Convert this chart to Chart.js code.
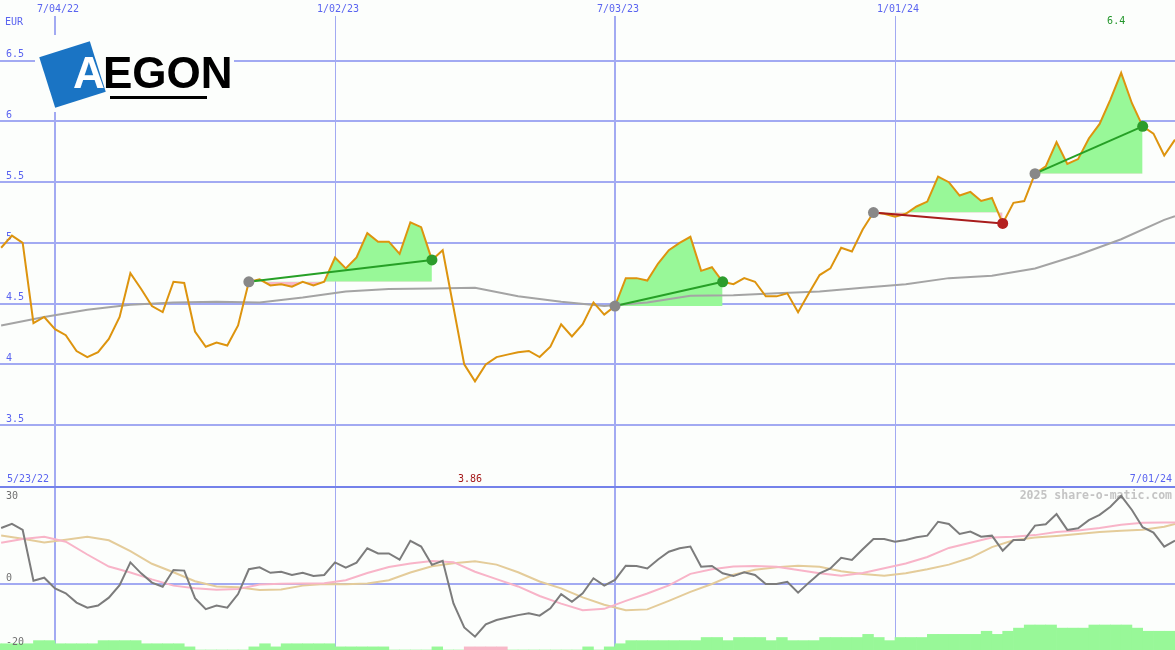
<!DOCTYPE html>
<html>
<head>
<meta charset="utf-8">
<title>AEGON</title>
<script src="https://cdn.jsdelivr.net/npm/chart.js@4.4.1/dist/chart.umd.min.js"></script>
<style>
  body { margin: 0; background: #fcfefc; }
  #wrap { position: relative; width: 1175px; height: 650px; overflow: hidden; }
  canvas { position: absolute; left: 0; }
</style>
</head>
<body>
<div id="wrap">
  <canvas id="top" width="1175" height="488" style="top:0"></canvas>
  <canvas id="bottom" width="1175" height="162" style="top:488px"></canvas>
</div>
<script>
// weekly closes, first value is week -5 (week 0 = 7/04/22)
const firstWeek = -5;
const price = [
  4.96, 5.06, 5.00, 4.34, 4.39, 4.29, 4.24, 4.11, 4.06, 4.10,
  4.21, 4.39, 4.75, 4.62, 4.48, 4.43, 4.68, 4.67, 4.27, 4.145,
  4.18, 4.155, 4.32, 4.68, 4.70, 4.65, 4.66, 4.64, 4.68, 4.65,
  4.68, 4.88, 4.79, 4.88, 5.08, 5.01, 5.01, 4.91, 5.17, 5.13,
  4.86, 4.94, 4.47, 4.00, 3.86, 4.00, 4.06, 4.08, 4.10, 4.11,
  4.06, 4.145, 4.33, 4.23, 4.33, 4.51, 4.41, 4.48, 4.71, 4.71,
  4.69, 4.83, 4.94, 5.00, 5.05, 4.77, 4.80, 4.68, 4.66, 4.71,
  4.68, 4.56, 4.56, 4.585, 4.43, 4.585, 4.735, 4.79, 4.96, 4.93,
  5.11, 5.25, 5.24, 5.215, 5.24, 5.30, 5.34, 5.545, 5.50, 5.39,
  5.42, 5.345, 5.37, 5.16, 5.33, 5.345, 5.57, 5.63, 5.83, 5.65,
  5.69, 5.86, 5.98, 6.18, 6.40, 6.15, 5.96, 5.90, 5.72, 5.85
];
// same weeks as price
const oscillator = [
  20.5, 22.0, 19.8, 1.2, 2.3, -1.6, -3.4, -6.8, -8.7, -7.9,
  -5.0, -0.4, 7.9, 3.9, 0.5, -1.0, 5.1, 4.9, -5.2, -9.2,
  -7.9, -8.7, -3.7, 5.4, 6.1, 4.1, 4.5, 3.3, 4.1, 2.9,
  3.3, 7.9, 6.0, 7.8, 13.1, 11.2, 11.2, 8.9, 15.8, 13.7,
  7.0, 8.5, -7.1, -15.9, -19.3, -14.8, -13.2, -12.3, -11.4, -10.7,
  -11.6, -8.9, -3.7, -6.5, -3.4, 2.1, -0.6, 1.5, 6.7, 6.6,
  5.7, 9.0, 11.8, 13.1, 13.7, 6.3, 6.6, 3.9, 2.9, 4.3,
  3.3, 0.0, 0.0, 0.8, -3.2, 0.5, 3.9, 5.7, 9.6, 8.8,
  12.7, 16.5, 16.5, 15.5, 16.1, 17.1, 17.7, 22.8, 22.0, 18.3,
  19.2, 17.3, 17.7, 12.2, 16.1, 16.1, 21.4, 21.9, 25.6, 19.8,
  20.4, 23.4, 25.3, 28.3, 32.3, 27.1, 20.8, 18.8, 13.7, 15.9
];

// long moving average (grey), every 4 weeks
const maWeeks = [-5, -1, 3, 7, 11, 15, 19, 23, 27, 31, 35, 39, 43, 47, 51, 55, 59, 63, 67, 71, 75, 79, 83, 87, 91, 95, 99, 103, 104];
const maValues = [4.32, 4.39, 4.45, 4.49, 4.51, 4.515, 4.51, 4.55, 4.60, 4.62, 4.625, 4.63, 4.56, 4.515, 4.48, 4.51, 4.565, 4.57, 4.585, 4.60, 4.63, 4.66, 4.71, 4.73, 4.79, 4.90, 5.03, 5.19, 5.22];

// oscillator averages, every 2 weeks from -5 to 103, then 104
const smoothWeeks = [];
for (let w = -5; w <= 103; w += 2) smoothWeeks.push(w);
smoothWeeks.push(104);
const pinkAvg = [
  15.1, 16.5, 17.3, 15.5, 10.8, 6.4, 4.2, 1.7, -0.6, -1.6,
  -2.1, -1.8, -0.2, 0.1, 0.2, 0.3, 1.4, 4.0, 6.2, 7.5,
  8.4, 8.0, 4.5, 1.8, -0.9, -4.4, -7.2, -9.6, -9.1, -6.2,
  -3.5, -0.5, 3.7, 5.4, 6.4, 6.6, 6.3, 5.1, 3.9, 3.0,
  4.0, 5.8, 7.5, 9.9, 13.2, 15.1, 17.0, 17.3, 17.9, 19.0,
  19.6, 20.5, 21.7, 22.4, 22.5, 22.5
];
const tanAvg = [
  17.8, 16.6, 15.2, 16.2, 17.3, 16.0, 12.0, 7.4, 4.3, 1.0,
  -0.9, -1.2, -2.2, -2.0, -0.6, 0.0, -0.1, 0.2, 1.4, 4.2,
  6.5, 7.6, 8.3, 7.1, 4.3, 0.9, -1.6, -4.9, -7.6, -9.6,
  -9.3, -6.2, -2.9, 0.0, 3.4, 5.2, 6.1, 6.7, 6.3, 4.7,
  3.7, 3.0, 3.9, 5.4, 7.1, 9.6, 13.5, 16.0, 17.0, 17.6,
  18.3, 19.0, 19.5, 19.9, 21.0, 22.0
];

// strength bars, one per week starting at week -6 (negative = pink)
const barFirstWeek = -6;
const bars = [
  2, 2, 2, 2, 3, 3, 2, 2, 2, 2,
  3, 3, 3, 3, 2, 2, 2, 2, 1, 0,
  0, 0, 0, 0, 1, 2, 1, 2, 2, 2,
  2, 2, 1, 1, 1, 1, 1, 0, 0, 0,
  0, 1, 0, 0, -1, -1, -1, -1, 0, 0,
  0, 0, 0, 0, 0, 1, 0, 1, 2, 3,
  3, 3, 3, 3, 3, 3, 4, 4, 3, 4,
  4, 4, 3, 4, 3, 3, 3, 4, 4, 4,
  4, 5, 4, 3, 4, 4, 4, 5, 5, 5,
  5, 5, 6, 5, 6, 7, 8, 8, 8, 7,
  7, 7, 8, 8, 8, 8, 7, 6, 6, 6
];

// trend signals: start week -> end week
const trends = [
  { from: 18, to: 35 },
  { from: 52, to: 62 },
  { from: 76, to: 88 },
  { from: 91, to: 101 }
];

const dateTicks = [0, 26, 52, 78];
const dateLabels = ['7/04/22', '1/02/23', '7/03/23', '1/01/24'];
const priceTicks = [3.5, 4, 4.5, 5, 5.5, 6, 6.5];
const oscTicks = [30, 0, -20];
const startLabel = '5/23/22';
const endLabel = '7/01/24';

const BG = '#fcfefc';
const GRID = '#a2aaf2';
const BLUE = '#5a64f0';
const GREEN_FILL = '#98f898';
const PINK_FILL = '#f8b8c8';
const FONT = '10px "DejaVu Sans Mono"';

const weekOf = i => firstWeek + i;
const priceAt = w => price[w - firstWeek];
const pricePts = price.map((v, i) => ({ x: weekOf(i), y: v }));
const fmt = v => String(parseFloat(v.toFixed(2)));

const xScale = { type: 'linear', min: -5.107, max: 104.0, display: false, offset: false };

// ---- top panel ----
const topSets = [
  { data: pricePts, borderColor: '#dd940e', borderWidth: 2, pointRadius: 0, order: 1 },
  { data: maWeeks.map((w, i) => ({ x: w, y: maValues[i] })), borderColor: '#a4a4a4', borderWidth: 2, pointRadius: 0, order: 2 }
];
trends.forEach(t => {
  const base = priceAt(t.from);
  const up = priceAt(t.to) >= base;
  topSets.push({
    data: pricePts.slice(t.from - firstWeek, t.to - firstWeek + 1),
    borderWidth: 0, borderColor: 'transparent', pointRadius: 0, order: 3,
    fill: { target: { value: base }, above: GREEN_FILL, below: PINK_FILL }
  });
  topSets.push({
    data: [{ x: t.from, y: base }, { x: t.to, y: priceAt(t.to) }],
    borderColor: up ? '#26a026' : '#a81c1c', borderWidth: 2,
    pointRadius: 5.5, pointBorderWidth: 0,
    pointBackgroundColor: ['#888888', up ? '#2c9c2c' : '#b42020'],
    order: 0
  });
});

function drawLogo(ctx) {
  ctx.fillStyle = BG;
  ctx.fillRect(35, 35, 199, 77);
  ctx.save();
  ctx.translate(72.5, 74.5);
  ctx.rotate(-17.5 * Math.PI / 180);
  ctx.fillStyle = '#1a74c4';
  ctx.fillRect(-26.5, -26.5, 53, 53);
  ctx.restore();
  ctx.font = 'bold 44px "Liberation Sans"';
  ctx.textBaseline = 'alphabetic';
  ctx.textAlign = 'left';
  ctx.fillStyle = '#ffffff';
  ctx.fillText('A', 73, 88);
  ctx.fillStyle = '#000000';
  ctx.fillText('EGON', 103, 88);
  ctx.fillRect(110, 96, 97, 3);
}

const topDecor = {
  id: 'topDecor',
  beforeDatasetsDraw(chart) {
    const { ctx, width, height } = chart;
    const { x, y } = chart.scales;
    ctx.save();
    ctx.fillStyle = GRID;
    priceTicks.forEach(v => {
      const py = Math.round(y.getPixelForValue(v));
      ctx.fillRect(0, py - 1, width, 2);
    });
    dateTicks.forEach((w, i) => {
      const px = Math.round(x.getPixelForValue(w));
      if (i % 2 === 0) ctx.fillRect(px - 1, 16, 2, height - 16);
      else ctx.fillRect(px, 16, 1, height - 16);
    });
    drawLogo(ctx);

    ctx.font = FONT;
    ctx.textBaseline = 'middle';
    ctx.textAlign = 'left';
    ctx.fillStyle = BLUE;
    ctx.fillText('EUR', 5, 22);
    priceTicks.forEach(v => ctx.fillText(String(v), 6, y.getPixelForValue(v) - 6));
    ctx.textAlign = 'center';
    dateTicks.forEach((w, i) => ctx.fillText(dateLabels[i], x.getPixelForValue(w) + 3, 9));

    // high / low
    const hi = Math.max(...price), lo = Math.min(...price);
    ctx.fillStyle = '#22962a';
    ctx.fillText(fmt(hi), x.getPixelForValue(weekOf(price.indexOf(hi))) - 5, 21);
    ctx.fillStyle = '#a41818';
    ctx.fillText(fmt(lo), x.getPixelForValue(weekOf(price.indexOf(lo))) - 5, 479);

    ctx.fillStyle = BLUE;
    ctx.textAlign = 'left';
    ctx.fillText(startLabel, 7, 479);
    ctx.textAlign = 'right';
    ctx.fillText(endLabel, 1172, 479);

    ctx.fillStyle = '#7482ea';
    ctx.fillRect(0, height - 2, width, 2);
    ctx.restore();
  }
};

new Chart(document.getElementById('top'), {
  type: 'line',
  data: { datasets: topSets },
  options: {
    responsive: false, animation: false, events: [],
    layout: { padding: 0, autoPadding: false },
    elements: { line: { tension: 0 } },
    scales: { x: xScale, y: { type: 'linear', min: 2.982, max: 7.0, display: false } },
    plugins: { legend: { display: false }, tooltip: { enabled: false } }
  },
  plugins: [topDecor]
});

// ---- bottom panel ----
const bottomDecor = {
  id: 'bottomDecor',
  beforeDatasetsDraw(chart) {
    const { ctx, width, height } = chart;
    const { x, y } = chart.scales;
    ctx.save();
    ctx.fillStyle = GRID;
    dateTicks.forEach((w, i) => {
      const px = Math.round(x.getPixelForValue(w));
      if (i % 2 === 0) ctx.fillRect(px - 1, 0, 2, height);
      else ctx.fillRect(px, 0, 1, height);
    });
    ctx.fillRect(0, Math.round(y.getPixelForValue(0)) - 1, width, 2);
    ctx.font = 'bold 11.5px "DejaVu Sans Mono"';
    ctx.fillStyle = '#c4c4c4';
    ctx.textAlign = 'right';
    ctx.textBaseline = 'middle';
    ctx.fillText('2025 share-o-matic.com', 1172, 8);
    ctx.restore();
  },
  afterDatasetsDraw(chart) {
    const { ctx } = chart;
    const { y } = chart.scales;
    ctx.save();
    ctx.font = FONT;
    ctx.fillStyle = '#707070';
    ctx.textAlign = 'left';
    ctx.textBaseline = 'middle';
    oscTicks.forEach(v => ctx.fillText(String(v), 6, y.getPixelForValue(v) + (v < 0 ? 4 : -6)));
    ctx.restore();
  }
};

new Chart(document.getElementById('bottom'), {
  type: 'line',
  data: {
    datasets: [
      { data: oscillator.map((v, i) => ({ x: weekOf(i), y: v })), borderColor: '#7c7c7c', borderWidth: 2, pointRadius: 0, order: 0 },
      { data: smoothWeeks.map((w, i) => ({ x: w, y: pinkAvg[i] })), borderColor: '#f8b4c8', borderWidth: 2, pointRadius: 0, order: 1 },
      { data: smoothWeeks.map((w, i) => ({ x: w, y: tanAvg[i] })), borderColor: '#e4cc9a', borderWidth: 2, pointRadius: 0, order: 2 },
      {
        type: 'bar', yAxisID: 'yb', order: 5,
        data: bars.map((v, i) => ({ x: barFirstWeek + i + 0.5, y: Math.abs(v) })),
        backgroundColor: bars.map(v => v < 0 ? PINK_FILL : GREEN_FILL),
        borderWidth: 0, barPercentage: 1, categoryPercentage: 1
      }
    ]
  },
  options: {
    responsive: false, animation: false, events: [],
    layout: { padding: 0, autoPadding: false },
    elements: { line: { tension: 0 } },
    scales: {
      x: xScale,
      y: { type: 'linear', min: -24.18, max: 35.16, display: false },
      yb: { type: 'linear', min: 0, max: 51.84, display: false }
    },
    plugins: { legend: { display: false }, tooltip: { enabled: false } }
  },
  plugins: [bottomDecor]
});
</script>
</body>
</html>
